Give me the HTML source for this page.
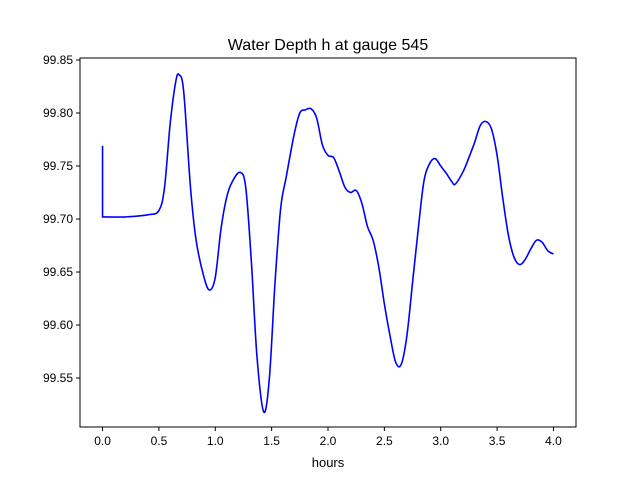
<!DOCTYPE html>
<html><head><meta charset="utf-8">
<style>
body{margin:0;background:#fff;}
svg{display:block;font-family:"Liberation Sans","DejaVu Sans",sans-serif;}
</style></head>
<body>
<svg id="chart" width="640" height="480" viewBox="0 0 640 480">
<rect width="640" height="480" fill="#fff"/>
<text x="328" y="50" text-anchor="middle" font-size="16">Water Depth h at gauge 545</text>
<g id="ticks"></g>
<path id="line" fill="none" stroke="#0000ff" stroke-width="1.6"/>
<rect x="80" y="58" width="496" height="369" fill="none" stroke="#000" stroke-width="1"/>
<text x="328" y="467" text-anchor="middle" font-size="13">hours</text>
</svg>
<script>
const hours=[0,0,0.2,0.4,0.5,0.55,0.6,0.65,0.68,0.72,0.78,0.83,0.9,0.95,1.0,1.05,1.1,1.15,1.22,1.27,1.32,1.37,1.43,1.48,1.53,1.58,1.63,1.7,1.75,1.8,1.85,1.9,1.95,2.0,2.05,2.1,2.15,2.2,2.25,2.3,2.35,2.4,2.45,2.5,2.55,2.6,2.65,2.7,2.75,2.8,2.85,2.9,2.95,3.0,3.05,3.1,3.13,3.2,3.25,3.3,3.35,3.4,3.45,3.5,3.55,3.6,3.65,3.7,3.75,3.8,3.85,3.9,3.95,4.0];
const depth=[99.769,99.702,99.702,99.704,99.708,99.73,99.79,99.83,99.836,99.82,99.73,99.68,99.645,99.633,99.645,99.69,99.72,99.735,99.744,99.73,99.66,99.57,99.518,99.55,99.64,99.71,99.74,99.78,99.80,99.803,99.804,99.795,99.77,99.76,99.758,99.745,99.73,99.725,99.727,99.715,99.693,99.68,99.655,99.62,99.59,99.565,99.563,99.59,99.64,99.69,99.735,99.752,99.757,99.75,99.743,99.735,99.733,99.745,99.758,99.772,99.788,99.792,99.785,99.76,99.72,99.685,99.664,99.657,99.662,99.672,99.68,99.678,99.67,99.667];
const xTicks=[0,0.5,1,1.5,2,2.5,3,3.5,4];
const yTicks=[99.55,99.6,99.65,99.7,99.75,99.8,99.85];
const L=80,R=576,T=58,B=427,x0=-0.2,x1=4.2,y0=99.5038,y1=99.8519;
const sx=v=>L+(v-x0)/(x1-x0)*(R-L);
const sy=v=>B-(v-y0)/(y1-y0)*(B-T);
const NS="http://www.w3.org/2000/svg";
const g=document.getElementById('ticks');
function mk(t,a){const e=document.createElementNS(NS,t);for(const k in a)e.setAttribute(k,a[k]);return e;}
xTicks.forEach(v=>{
  const l=mk('line',{x1:sx(v),x2:sx(v),y1:B,y2:B+4,stroke:'#000'});
  
  
  g.appendChild(l);
  const t=mk('text',{x:sx(v),y:B+18,'text-anchor':'middle','font-size':12});
  
  
  t.textContent=v.toFixed(1);g.appendChild(t);
});
yTicks.forEach(v=>{
  const l=mk('line',{x1:L-4,x2:L,y1:sy(v),y2:sy(v),stroke:'#000'});
  
  
  g.appendChild(l);
  const t=mk('text',{x:L-7,y:sy(v)+4,'text-anchor':'end','font-size':12});
  
  
  t.textContent=v.toFixed(2);g.appendChild(t);
});
const P=hours.map((h,i)=>[sx(h),sy(depth[i])]);
let d=`M${P[0][0]},${P[0][1]} L${P[1][0]},${P[1][1]}`;
for(let i=1;i<P.length-1;i++){
  const p0=P[Math.max(1,i-1)],p1=P[i],p2=P[i+1],p3=P[Math.min(P.length-1,i+2)];
  const c1=[p1[0]+(p2[0]-p0[0])/6,p1[1]+(p2[1]-p0[1])/6];
  const c2=[p2[0]-(p3[0]-p1[0])/6,p2[1]-(p3[1]-p1[1])/6];
  d+=` C${c1[0]},${c1[1]} ${c2[0]},${c2[1]} ${p2[0]},${p2[1]}`;
}
document.getElementById('line').setAttribute('d',d);
</script>
</body></html>
